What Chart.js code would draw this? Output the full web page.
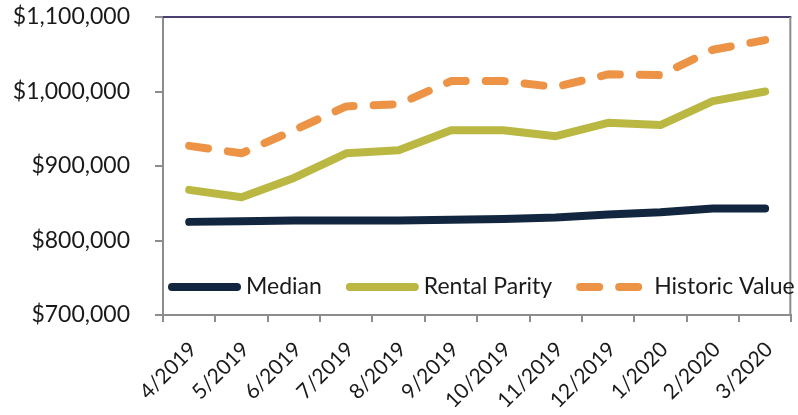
<!DOCTYPE html>
<html>
<head>
<meta charset="utf-8">
<script src="https://cdn.jsdelivr.net/npm/chart.js@4"></script>
<style>
  html, body { margin: 0; padding: 0; background: #fff; }
  #wrap { width: 798px; height: 415px; }
</style>
</head>
<body>
<div id="wrap"><canvas id="chart"></canvas></div>
<script>
    const months = ['4/2019', '5/2019', '6/2019', '7/2019', '8/2019', '9/2019',
        '10/2019', '11/2019', '12/2019', '1/2020', '2/2020', '3/2020'];
    const median = [825000, 826000, 827000, 827000, 827000, 828000, 829000, 831000, 835000, 838000, 843000, 843000];
    const rentalParity = [868000, 858000, 884000, 917000, 921000, 948000, 948000, 940000, 958000, 955000, 987000, 1000000];
    const historicValue = [927000, 917000, 948000, 980000, 983000, 1014000, 1014000, 1006000, 1023000, 1022000, 1056000, 1069000];

    const FONT = 'Lato';
    const axisGray = '#8c8c8c';

    // legend drawn inside the plot, along the bottom
    const insideLegend = {
        id: 'insideLegend',
        afterDatasetsDraw(chart) {
            const { ctx, chartArea } = chart;
            ctx.save();
            ctx.font = '23px ' + FONT;
            ctx.textBaseline = 'middle';
            let x = chartArea.left + 5;
            const y = chartArea.bottom - 28;
            chart.data.datasets.forEach(ds => {
                ctx.strokeStyle = ds.borderColor;
                ctx.lineWidth = ds.borderWidth;
                ctx.lineCap = 'round';
                ctx.setLineDash(ds.borderDash || []);
                ctx.beginPath();
                ctx.moveTo(x + 4, y);
                ctx.lineTo(x + 69, y);
                ctx.stroke();
                ctx.setLineDash([]);
                ctx.fillStyle = '#1a1a1a';
                ctx.fillText(ds.label, x + 78, y);
                x += 78 + ctx.measureText(ds.label).width + 24;
            });
            ctx.restore();
        }
    };

    // top (purple) and right (gray) frame of the plot area
    const frame = {
        id: 'frame',
        beforeDatasetsDraw(chart) {
            const { ctx, chartArea: a } = chart;
            ctx.save();
            ctx.lineWidth = 2;
            ctx.strokeStyle = '#4b3f72';
            ctx.beginPath();
            ctx.moveTo(a.left, a.top);
            ctx.lineTo(a.right, a.top);
            ctx.stroke();
            ctx.strokeStyle = axisGray;
            ctx.beginPath();
            ctx.moveTo(a.right - 1, a.top);
            ctx.lineTo(a.right - 1, a.bottom);
            ctx.stroke();
            ctx.restore();
        }
    };

    const lineStyle = { borderWidth: 8, pointRadius: 0, tension: 0, borderCapStyle: 'round', borderJoinStyle: 'round', fill: false };

    new Chart(document.getElementById('chart'), {
        type: 'line',
        data: {
            labels: months,
            datasets: [
                { label: 'Median', data: median, borderColor: '#13263f', ...lineStyle },
                { label: 'Rental Parity', data: rentalParity, borderColor: '#bab842', ...lineStyle },
                { label: 'Historic Value', data: historicValue, borderColor: '#ec9346', borderDash: [19, 20], ...lineStyle }
            ]
        },
        options: {
            responsive: true,
            maintainAspectRatio: false,
            animation: false,
            layout: { padding: { top: 17, right: 1, left: 0, bottom: 0 } },
            plugins: {
                legend: { display: false },
                tooltip: { enabled: false }
            },
            scales: {
                x: {
                    offset: true,
                    grid: { offset: true, drawOnChartArea: false, drawTicks: true, tickLength: 7, color: axisGray, lineWidth: 2 },
                    border: { display: true, color: axisGray, width: 2 },
                    ticks: {
                        autoSkip: false,
                        minRotation: 45,
                        maxRotation: 45,
                        padding: 15,
                        labelOffset: 4,
                        color: '#1a1a1a',
                        font: { family: FONT, size: 21 }
                    },
                    afterFit(scale) {
                        scale.height = 100;
                        scale.paddingTop = 0;
                        scale.paddingBottom = 0;
                    }
                },
                y: {
                    min: 700000,
                    max: 1100000,
                    grid: { drawOnChartArea: false, drawTicks: true, tickLength: 8, color: axisGray, lineWidth: 2 },
                    border: { display: true, color: axisGray, width: 2 },
                    ticks: {
                        stepSize: 100000,
                        padding: 25,
                        color: '#1a1a1a',
                        font: { family: FONT, size: 23 },
                        callback: v => '$' + v.toLocaleString('en-US')
                    },
                    afterFit(scale) {
                        scale.width = 163;
                        scale.paddingTop = 0;
                        scale.paddingBottom = 0;
                    }
                }
            }
        },
        plugins: [frame, insideLegend]
    });
</script>
</body>
</html>
